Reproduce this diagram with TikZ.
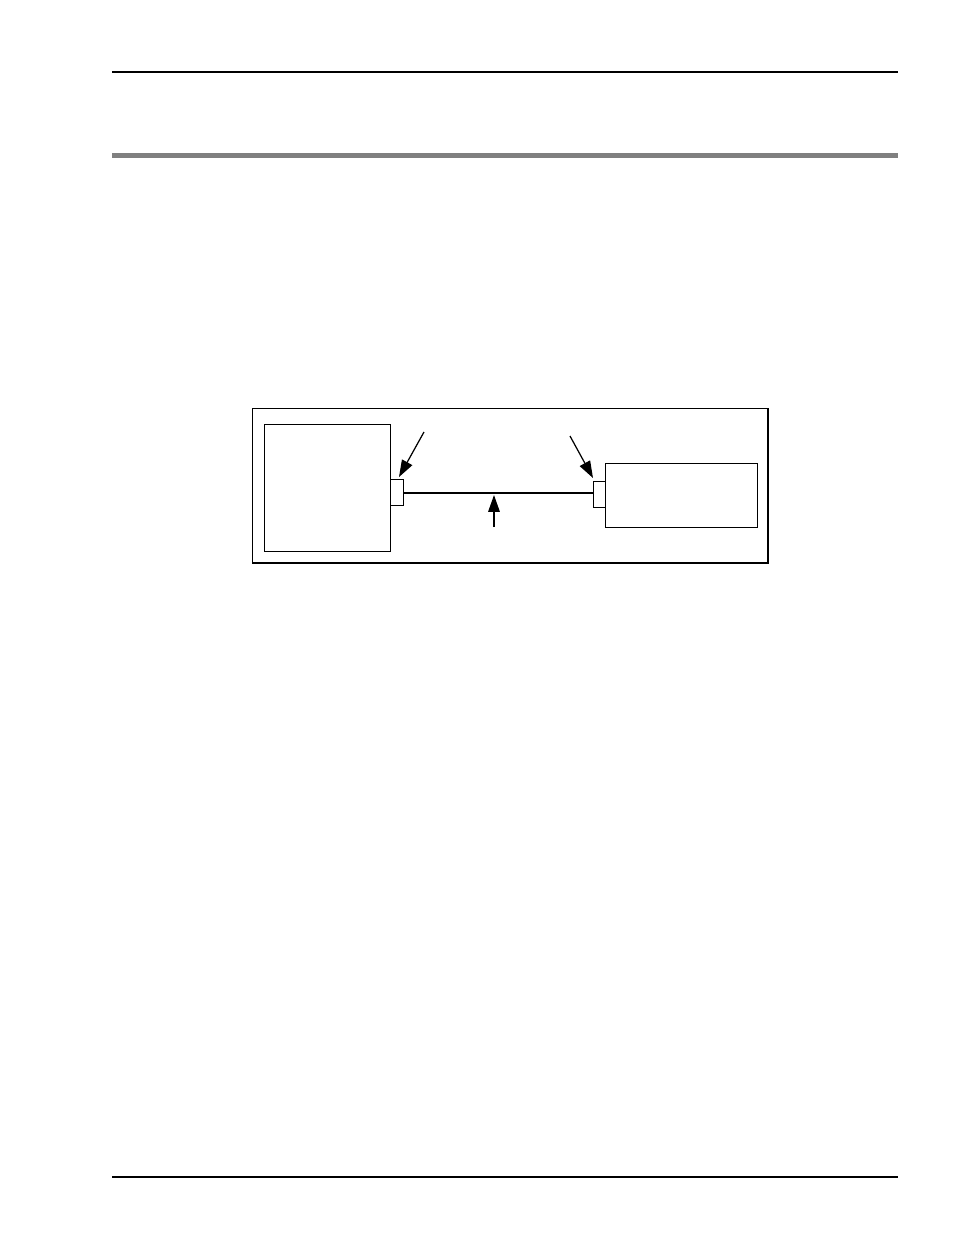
\documentclass[tikz,border=0pt]{standalone}
\usetikzlibrary{arrows.meta}
\definecolor{bargray}{RGB}{128,128,128}
\begin{document}
\begin{tikzpicture}[x=0.01cm,y=-0.01cm,
  box/.style={draw=black,line width=0.4pt,inner sep=0pt,anchor=north west},
  rule/.style={draw=black,line width=0.5pt},
  pointer/.style={draw=black,line width=0.35pt,-{Triangle[length=4.8pt,width=3.3pt]}},
  cable/.style={draw=black,line width=0.45pt}]
\useasboundingbox (0,0) rectangle (954,1235);
% page rules
\coordinate (h1) at (112,72);
\coordinate (h2) at (898,72);
\draw[rule] (h1) -- (h2);
\fill[bargray] (112,152.5) rectangle (898,158);
\coordinate (f1) at (112,1177);
\coordinate (f2) at (898,1177);
\draw[rule] (f1) -- (f2);
% diagram
\node[box,minimum width=5.15cm,minimum height=1.54cm] (outer) at (252,408) {};
\node[box,minimum width=1.26cm,minimum height=1.27cm] (lbox) at (264,424) {};
\node[box,minimum width=0.13cm,minimum height=0.26cm] (lconn) at (390,479) {};
\node[box,minimum width=0.12cm,minimum height=0.26cm] (rconn) at (593,481) {};
\node[box,minimum width=1.52cm,minimum height=0.64cm] (rbox) at (605,463) {};
\draw[cable] (lconn.east) -- (rconn.west |- lconn.east);
\coordinate (p1s) at (424,432);
\coordinate (p1t) at (399,477);
\coordinate (p2s) at (570,436);
\coordinate (p2t) at (593,478);
\coordinate (p3s) at (494,527);
\coordinate (p3t) at (494,495);
\draw[pointer] (p1s) -- (p1t);
\draw[pointer] (p2s) -- (p2t);
\draw[pointer] (p3s) -- (p3t);
\end{tikzpicture}
\end{document}
